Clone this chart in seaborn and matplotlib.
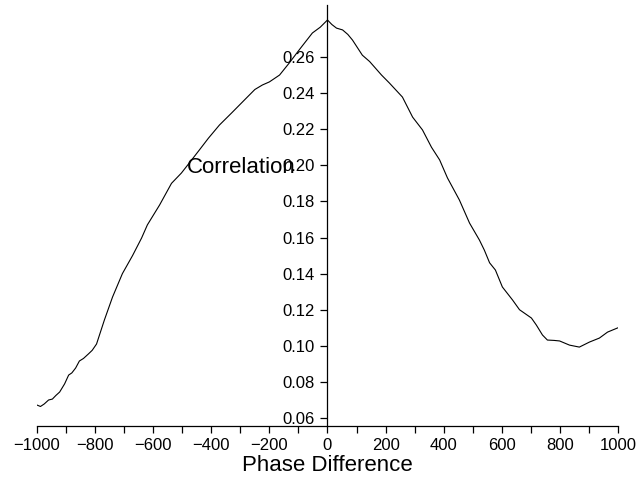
import numpy as np
import pandas as pd
import matplotlib
matplotlib.use("Agg")
import matplotlib.pyplot as plt
from matplotlib.ticker import MultipleLocator
import seaborn as sns

phase_difference = [-1000, -988, -975, -960, -947, -935, -922, -905, -891, -880, -867, -854,
                    -840, -823, -810, -795, -768, -740, -706, -671, -640, -620, -578, -537,
                    -503, -482, -441, -410, -372, -330, -279, -250, -224, -200, -165, -131,
                    -100, -86, -52, -25, 0, 15, 31, 52, 70, 86, 120, 145, 186, 213, 258, 293,
                    327, 358, 386, 413, 454, 489, 523, 540, 558, 578, 602, 637, 661, 702, 719,
                    740, 757, 780, 799, 833, 867, 902, 936, 964, 1000]
correlation = [0.0672, 0.0664, 0.0678, 0.0700, 0.0705, 0.0725, 0.0744, 0.0789, 0.0838, 0.0850,
               0.0877, 0.0916, 0.0930, 0.0955, 0.0975, 0.1010, 0.1143, 0.1270, 0.1400, 0.1500,
               0.1597, 0.1670, 0.1780, 0.1900, 0.1957, 0.2000, 0.2085, 0.2150, 0.2223, 0.2290,
               0.2373, 0.2420, 0.2445, 0.2462, 0.2500, 0.2568, 0.2634, 0.2663, 0.2733, 0.2765,
               0.2805, 0.2780, 0.2760, 0.2750, 0.2725, 0.2694, 0.2610, 0.2575, 0.2500, 0.2456,
               0.2378, 0.2267, 0.2196, 0.2100, 0.2030, 0.1930, 0.1808, 0.1680, 0.1586, 0.1530,
               0.1460, 0.1420, 0.1326, 0.1254, 0.1200, 0.1154, 0.1115, 0.1060, 0.1032, 0.1030,
               0.1027, 0.1004, 0.0993, 0.1021, 0.1043, 0.1076, 0.1100]

y_ticks = [0.06, 0.08, 0.10, 0.12, 0.14, 0.16, 0.18, 0.20, 0.22, 0.24, 0.26]
x_ticks = [-1000, -800, -600, -400, -200, 0, 200, 400, 600, 800, 1000]

sns.set_style("ticks", {"axes.edgecolor": "black", "text.color": "black",
                        "axes.labelcolor": "black", "xtick.color": "black",
                        "ytick.color": "black"})
plt.rcParams['font.family'] = ['Liberation Sans', 'DejaVu Sans']

df = pd.DataFrame({"Phase Difference": phase_difference, "Correlation": correlation})

fig = plt.figure(figsize=(6.41, 4.86), dpi=100)
ax = fig.add_axes([0.0577, 0.1235, 0.9064, 0.8662])
sns.lineplot(data=df, x="Phase Difference", y="Correlation", ax=ax, color="black",
             linewidth=0.8, estimator=None, sort=False)

ax.set_xlim(-1000, 1000)
ax.set_ylim(0.0556, 0.2888)
ax.spines['top'].set_visible(False)
ax.spines['right'].set_visible(False)
ax.spines['left'].set_position(('data', 0))
for s in ax.spines.values():
    s.set_linewidth(0.9)
    s.set_color('black')

ax.set_xticks(x_ticks)
ax.set_xticklabels([f"{v:d}".replace('-', '\u2212') for v in x_ticks])
ax.xaxis.set_minor_locator(MultipleLocator(100))
ax.set_yticks(y_ticks)
ax.set_yticklabels([f"{v:.2f}" for v in y_ticks])
ax.tick_params(axis='both', which='both', direction='out', length=5, width=0.9,
               labelsize=12, pad=4, color='black', labelcolor='black')

ax.set_xlabel("Phase Difference", fontsize=16, color='black')
ax.xaxis.set_label_coords(0.5, -0.07)
ax.set_ylabel("Correlation", fontsize=16, rotation=0, ha='center', va='center', color='black')
ax.yaxis.set_label_coords(0.352, 0.613)

fig.savefig("out.png", dpi=100)
